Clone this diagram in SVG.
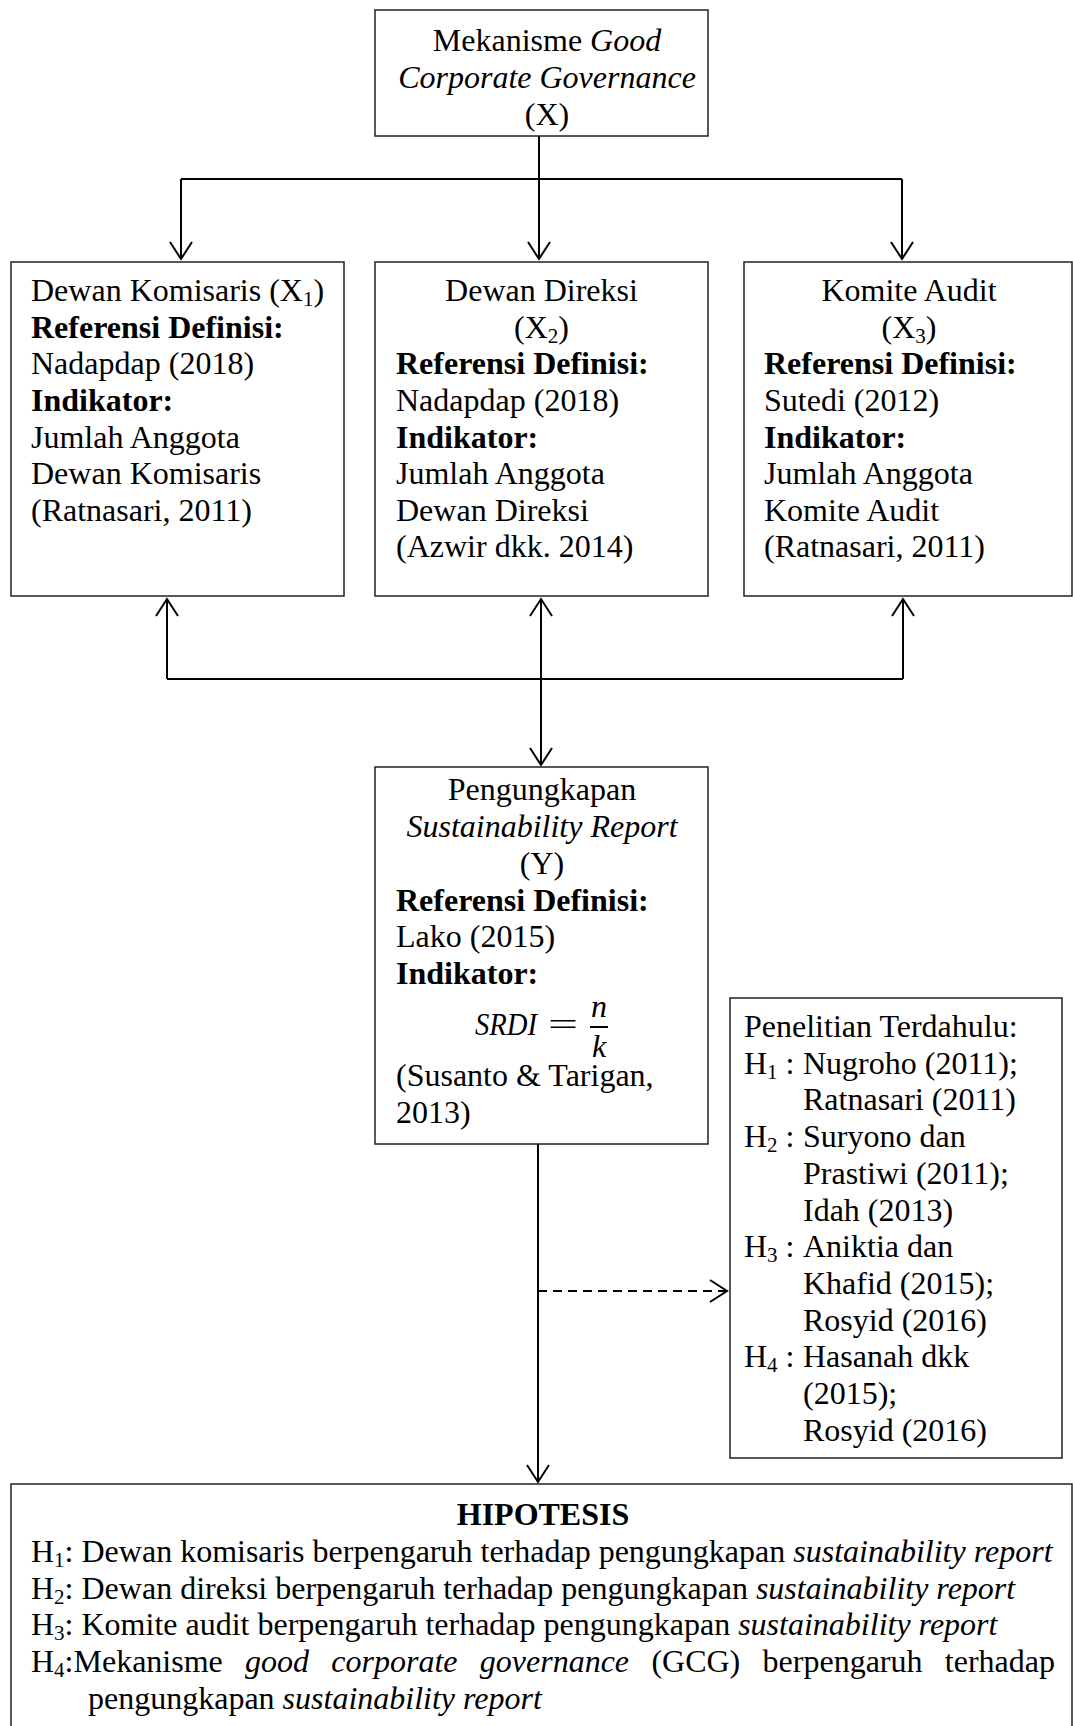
<svg xmlns="http://www.w3.org/2000/svg" width="1073" height="1726" viewBox="0 0 1073 1726">
<style>
text{font-family:"Liberation Serif","Times New Roman",serif;font-size:32px;fill:#000}
.c{text-anchor:middle}
.b{font-weight:bold}
.i{font-style:italic}
.box{fill:#fff;stroke:#222;stroke-width:1.5}
.ln{fill:none;stroke:#000;stroke-width:2}
.sub{font-size:21px}
</style>
<defs>
<marker id="ah" markerUnits="userSpaceOnUse" viewBox="-20 -13 22 26" refX="0" refY="0" markerWidth="22" markerHeight="26" orient="auto">
<path d="M-17,-11 L0,0 L-17,11" fill="none" stroke="#000" stroke-width="2"/>
</marker>
</defs>
<g id="connectors">
<path class="ln" d="M539,136 V259" marker-end="url(#ah)"/>
<path class="ln" d="M181,179 H902" stroke-width="2.5"/>
<path class="ln" d="M181,179 V259" marker-end="url(#ah)"/>
<path class="ln" d="M902,179 V259" marker-end="url(#ah)"/>
<path class="ln" d="M167,679 V599" marker-end="url(#ah)"/>
<path class="ln" d="M903,679 V599" marker-end="url(#ah)"/>
<path class="ln" d="M167,679 H903" stroke-width="2.5"/>
<path class="ln" d="M541,679 V599" marker-end="url(#ah)"/>
<path class="ln" d="M541,679 V765" marker-end="url(#ah)"/>
<path class="ln" d="M538,1144 V1482" marker-end="url(#ah)"/>
<path class="ln" d="M538,1291 H727" stroke-dasharray="9,6" marker-end="url(#ah)"/>
</g>
<g id="node-x">
<rect class="box" x="375" y="10" width="333" height="126"/>
<text class="c" x="547" y="51">Mekanisme <tspan class="i">Good</tspan></text>
<text class="c i" x="547" y="88">Corporate Governance</text>
<text class="c" x="547" y="125">(X)</text>
</g>
<g id="node-x1">
<rect class="box" x="11" y="262" width="333" height="334"/>
<text x="31" y="301">Dewan Komisaris (X<tspan class="sub" dy="5">1</tspan><tspan dy="-5">)</tspan></text>
<text class="b" x="31" y="337.8">Referensi Definisi:</text>
<text x="31" y="374.4">Nadapdap (2018)</text>
<text class="b" x="31" y="411">Indikator:</text>
<text x="31" y="447.6">Jumlah Anggota</text>
<text x="31" y="484.2">Dewan Komisaris</text>
<text x="31" y="520.8">(Ratnasari, 2011)</text>
</g>
<g id="node-x2">
<rect class="box" x="375" y="262" width="333" height="334"/>
<text class="c" x="541.5" y="301">Dewan Direksi</text>
<text class="c" x="541.5" y="337.8">(X<tspan class="sub" dy="5">2</tspan><tspan dy="-5">)</tspan></text>
<text class="b" x="396" y="374.4">Referensi Definisi:</text>
<text x="396" y="411">Nadapdap (2018)</text>
<text class="b" x="396" y="447.6">Indikator:</text>
<text x="396" y="484.2">Jumlah Anggota</text>
<text x="396" y="520.8">Dewan Direksi</text>
<text x="396" y="557.4">(Azwir dkk. 2014)</text>
</g>
<g id="node-x3">
<rect class="box" x="744" y="262" width="328" height="334"/>
<text class="c" x="909" y="301">Komite Audit</text>
<text class="c" x="909" y="337.8">(X<tspan class="sub" dy="5">3</tspan><tspan dy="-5">)</tspan></text>
<text class="b" x="764" y="374.4">Referensi Definisi:</text>
<text x="764" y="411">Sutedi (2012)</text>
<text class="b" x="764" y="447.6">Indikator:</text>
<text x="764" y="484.2">Jumlah Anggota</text>
<text x="764" y="520.8">Komite Audit</text>
<text x="764" y="557.4">(Ratnasari, 2011)</text>
</g>
<g id="node-y">
<rect class="box" x="375" y="767" width="333" height="377"/>
<text class="c" x="542" y="800">Pengungkapan</text>
<text class="c i" x="542" y="837">Sustainability Report</text>
<text class="c" x="542" y="873.5">(Y)</text>
<text class="b" x="396" y="910.5">Referensi Definisi:</text>
<text x="396" y="947">Lako (2015)</text>
<text class="b" x="396" y="984">Indikator:</text>
<text class="i" x="475" y="1035" font-size="30" textLength="62" lengthAdjust="spacingAndGlyphs">SRDI</text>
<text x="548" y="1035" font-size="32" textLength="30" lengthAdjust="spacingAndGlyphs">=</text>
<text class="i" x="591" y="1017" font-size="30">n</text>
<line x1="590" y1="1027" x2="608" y2="1027" stroke="#000" stroke-width="2"/>
<text class="i" x="592" y="1057" font-size="30">k</text>
<text x="396" y="1086">(Susanto &amp; Tarigan,</text>
<text x="396" y="1122.5">2013)</text>
</g>
<g id="node-penelitian">
<rect class="box" x="730" y="998" width="332" height="460"/>
<text x="744" y="1037">Penelitian Terdahulu:</text>
<text x="744" y="1073.7">H<tspan class="sub" dy="5">1</tspan><tspan dy="-5"> :</tspan></text>
<text x="803" y="1073.7">Nugroho (2011);</text>
<text x="803" y="1110.4">Ratnasari (2011)</text>
<text x="744" y="1147.1">H<tspan class="sub" dy="5">2</tspan><tspan dy="-5"> :</tspan></text>
<text x="803" y="1147.1">Suryono dan</text>
<text x="803" y="1183.8">Prastiwi (2011);</text>
<text x="803" y="1220.5">Idah (2013)</text>
<text x="744" y="1257.2">H<tspan class="sub" dy="5">3</tspan><tspan dy="-5"> :</tspan></text>
<text x="803" y="1257.2">Aniktia dan</text>
<text x="803" y="1293.9">Khafid (2015);</text>
<text x="803" y="1330.6">Rosyid (2016)</text>
<text x="744" y="1367.3">H<tspan class="sub" dy="5">4</tspan><tspan dy="-5"> :</tspan></text>
<text x="803" y="1367.3">Hasanah dkk</text>
<text x="803" y="1404">(2015);</text>
<text x="803" y="1440.7">Rosyid (2016)</text>
</g>
<g id="node-hipotesis">
<rect class="box" x="11" y="1484" width="1061" height="250"/>
<text class="c b" x="543" y="1525">HIPOTESIS</text>
<text x="31" y="1562">H<tspan class="sub" dy="5">1</tspan><tspan dy="-5">: Dewan komisaris berpengaruh terhadap pengungkapan </tspan><tspan class="i">sustainability report</tspan></text>
<text x="31" y="1598.7">H<tspan class="sub" dy="5">2</tspan><tspan dy="-5">: Dewan direksi berpengaruh terhadap pengungkapan </tspan><tspan class="i">sustainability report</tspan></text>
<text x="31" y="1635.4">H<tspan class="sub" dy="5">3</tspan><tspan dy="-5">: Komite audit berpengaruh terhadap pengungkapan </tspan><tspan class="i">sustainability report</tspan></text>
<text x="31" y="1672">H<tspan class="sub" dy="5">4</tspan><tspan dy="-5">:Mekanisme</tspan><tspan class="i" x="245">good</tspan><tspan class="i" x="331.3">corporate</tspan><tspan class="i" x="479.8">governance</tspan><tspan x="651.4">(GCG)</tspan><tspan x="762.6">berpengaruh</tspan><tspan x="944.8">terhadap</tspan></text>
<text x="88" y="1708.7">pengungkapan <tspan class="i">sustainability report</tspan></text>
</g>
</svg>
